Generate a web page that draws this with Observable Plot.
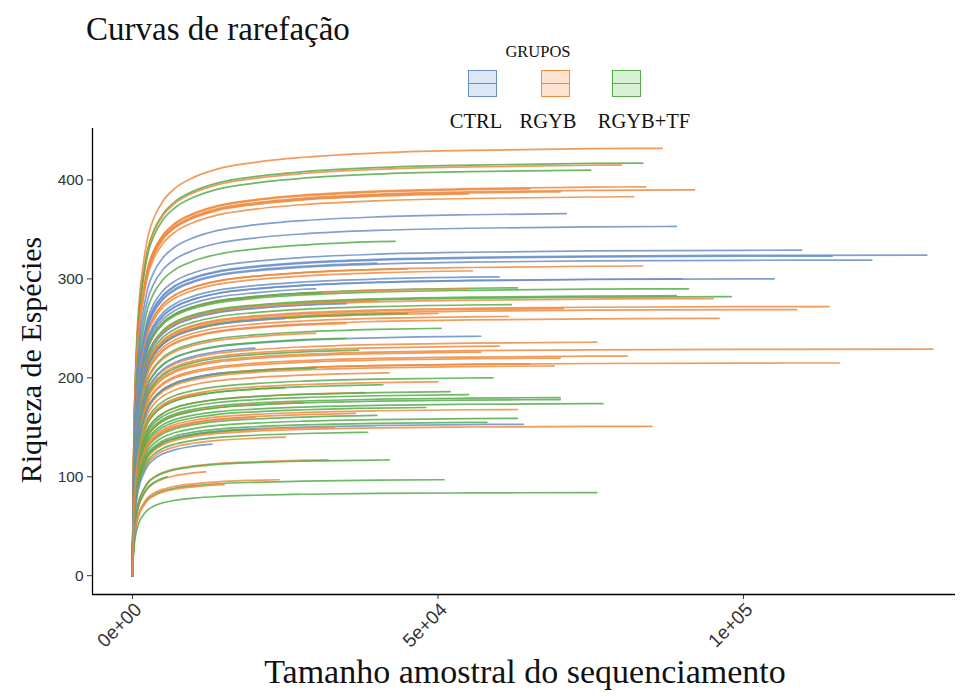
<!DOCTYPE html>
<html><head><meta charset="utf-8">
<script src="https://cdn.jsdelivr.net/npm/d3@7"></script>
<script src="https://cdn.jsdelivr.net/npm/@observablehq/plot@0.6"></script>
<style>
body{margin:0;background:#fff;}
#wrap{position:relative;width:964px;height:697px;overflow:hidden;}
.serif{font-family:"Liberation Serif","DejaVu Serif",serif;color:#111;position:absolute;white-space:nowrap;line-height:1;}
.key{position:absolute;width:29px;height:27px;box-sizing:border-box;border:1.5px solid;}
.key i{position:absolute;left:0;right:0;top:50%;height:0;border-top:1.5px solid;margin-top:-0.75px;}
</style></head><body>
<div id="wrap">
  <div class="serif" style="left:86px;top:13px;font-size:33px;">Curvas de rarefação</div>
  <div class="serif" style="left:538px;top:44px;font-size:16.5px;transform:translateX(-50%);">GRUPOS</div>
  <div id="legend"></div>
  <div class="serif" style="left:31px;top:360px;font-size:30px;transform:translate(-50%,-50%) rotate(-90deg);">Riqueza de Espécies</div>
  <div class="serif" style="left:525px;top:655px;font-size:34px;transform:translateX(-50%);">Tamanho amostral do sequenciamento</div>
  <div id="chart" style="position:absolute;left:0;top:0;"></div>
</div>
<script>
// Groups and colours
const groups = ["CTRL", "RGYB", "RGYB+TF"];
const groupColors = ["#6a8fc8", "#ee8a40", "#55ad4c"];
const groupFills = ["#dce7f5", "#fde3cf", "#d8f0d4"];

// Axis ticks
const xTicks = [0, 50000, 100000];
const xTickLabels = ["0e+00", "5e+04", "1e+05"];
const yTicks = [0, 100, 200, 300, 400];

// Common rarefaction shape (fraction of final richness vs. depth)
const shapeDepth = [0, 100, 250, 500, 800, 1200, 1800, 2500, 3500, 5000, 7000, 10000, 14000, 20000, 28000, 40000, 55000, 75000, 100000, 135000];
const shapeFraction = [0, 0.18, 0.34, 0.48, 0.58, 0.66, 0.73, 0.79, 0.835, 0.875, 0.905, 0.93, 0.95, 0.965, 0.977, 0.987, 0.993, 0.997, 0.999, 1.0];

// Samples: group, sequencing depth (reads), observed richness at that depth
const sampleGroup = [
 "RGYB","RGYB+TF","RGYB","RGYB+TF","RGYB","RGYB","RGYB","RGYB","RGYB","RGYB",
 "CTRL","CTRL","RGYB+TF","CTRL","CTRL","CTRL","CTRL","RGYB","RGYB","CTRL",
 "RGYB","CTRL","CTRL","CTRL","RGYB+TF","RGYB+TF","RGYB+TF","RGYB+TF","RGYB","RGYB",
 "RGYB+TF","RGYB","CTRL","RGYB","RGYB","RGYB+TF","RGYB","RGYB","RGYB","RGYB",
 "RGYB+TF","CTRL","RGYB","RGYB+TF","RGYB","CTRL","RGYB","RGYB","RGYB","RGYB",
 "RGYB","RGYB","RGYB","RGYB+TF","RGYB","RGYB","CTRL","RGYB","RGYB","RGYB+TF",
 "RGYB","RGYB+TF","RGYB+TF","RGYB+TF","CTRL","RGYB+TF","RGYB+TF","RGYB","RGYB+TF","RGYB+TF",
 "RGYB+TF","RGYB","RGYB+TF","RGYB","RGYB+TF","CTRL","RGYB","RGYB","RGYB+TF","RGYB+TF",
 "RGYB","RGYB+TF","RGYB","RGYB+TF","CTRL","RGYB+TF","RGYB","RGYB+TF","RGYB","RGYB+TF",
 "RGYB+TF","RGYB","RGYB","RGYB+TF","CTRL","RGYB"
];
const sampleDepth = [
 86700, 83500, 80000, 75000, 92000, 84000, 65000, 70000, 55000, 82000,
 71000, 89000, 43000, 109500, 130000, 114500, 121000, 45000, 83500, 40000,
 55600, 60000, 105000, 90000, 63000, 91000, 89000, 98000, 95000, 55000,
 31000, 40000, 30000, 114000, 108700, 62000, 70500, 61500, 96000, 50000,
 45000, 35000, 35000, 50500, 76000, 57000, 60000, 131000, 57000, 30000,
 81000, 70000, 65000, 37000, 115700, 69000, 25000, 42000, 50000, 35000,
 38000, 59000, 41000, 55000, 20000, 52000, 70000, 28000, 70000, 77000,
 30000, 36500, 48000, 63000, 40000, 64000, 20000, 85000, 63000, 58000,
 33000, 25000, 25000, 38500, 15000, 20000, 32000, 42000, 12000, 5700,
 51000, 24000, 15000, 76000, 13000, 12000
];
const sampleRichness = [
 432, 417, 415, 410, 390, 393, 391, 388, 386, 383,
 366, 353, 338, 329, 324, 323, 319, 310, 313, 316,
 308, 302, 300, 300, 291, 290, 283, 282, 280, 290,
 286, 278, 290, 272, 269, 274, 270, 262, 260, 265,
 265, 275, 255, 250, 236, 242, 232, 229, 226, 245,
 222, 220, 214, 228, 215, 212, 260, 205, 196, 240,
 185, 200, 193, 183, 230, 186, 180, 175, 178, 174,
 210, 164, 170, 168, 162, 153, 160, 151, 159, 155,
 150, 190, 140, 145, 205, 148, 117, 117, 105, 100,
 97, 97, 92, 84, 133, 185
];

// Build curve points from the sample table
function shapeAt(d) {
  for (let i = 1; i < shapeDepth.length; i++) {
    if (d <= shapeDepth[i]) {
      const t = (d - shapeDepth[i-1]) / (shapeDepth[i] - shapeDepth[i-1]);
      return shapeFraction[i-1] + t * (shapeFraction[i] - shapeFraction[i-1]);
    }
  }
  return 1;
}
const points = [];
sampleGroup.forEach((g, i) => {
  const maxD = sampleDepth[i], rich = sampleRichness[i], norm = shapeAt(maxD);
  shapeDepth.forEach((d, j) => {
    if (d < maxD) points.push({id: i, group: g, depth: d, richness: rich * shapeFraction[j] / norm});
  });
  points.push({id: i, group: g, depth: maxD, richness: rich});
});

const xDomain = [-6540, 134700];
const yDomain = [-19, 452];

const chart = Plot.plot({
  width: 964, height: 697,
  marginTop: 128, marginLeft: 92, marginRight: 9, marginBottom: 103,
  style: {fontFamily: "'Liberation Sans', Arial, sans-serif", fontSize: "15px", color: "#333", background: "transparent"},
  x: {domain: xDomain, label: null},
  y: {domain: yDomain, label: null},
  color: {domain: groups, range: groupColors},
  marks: [
    Plot.line(points, {x: "depth", y: "richness", z: "id", stroke: "group", strokeWidth: 1.7, strokeOpacity: 0.85, curve: "monotone-x"}),
    Plot.axisX({ticks: xTicks, tickSize: 5, tickFormat: () => "", label: null, stroke: "#333"}),
    Plot.axisX({ticks: xTicks, tickSize: 0, tickFormat: d => xTickLabels[xTicks.indexOf(d)], tickRotate: -45, tickPadding: 8, fontSize: 19, dx: 6, dy: 4, label: null}),
    Plot.axisY({ticks: yTicks, tickSize: 5, tickPadding: 4, fontSize: 15.5, label: null, stroke: "#333"}),
    Plot.ruleX([xDomain[0]], {stroke: "#000", strokeWidth: 1.3}),
    Plot.ruleY([yDomain[0]], {stroke: "#000", strokeWidth: 1.3})
  ]
});
document.getElementById("chart").appendChild(chart);

// Legend
const legend = document.getElementById("legend");
const keyX = [468, 541, 612];
const labelX = [476, 548, 644];
groups.forEach((g, i) => {
  const k = document.createElement("div");
  k.className = "key";
  k.style.left = keyX[i] + "px"; k.style.top = "70px";
  k.style.borderColor = groupColors[i]; k.style.background = groupFills[i];
  const line = document.createElement("i"); line.style.borderTopColor = groupColors[i];
  k.appendChild(line);
  legend.appendChild(k);
  const t = document.createElement("div");
  t.className = "serif";
  t.style.left = labelX[i] + "px"; t.style.top = "111px"; t.style.fontSize = "20.5px";
  t.style.transform = "translateX(-50%)";
  t.textContent = g;
  legend.appendChild(t);
});
</script>
</body></html>
